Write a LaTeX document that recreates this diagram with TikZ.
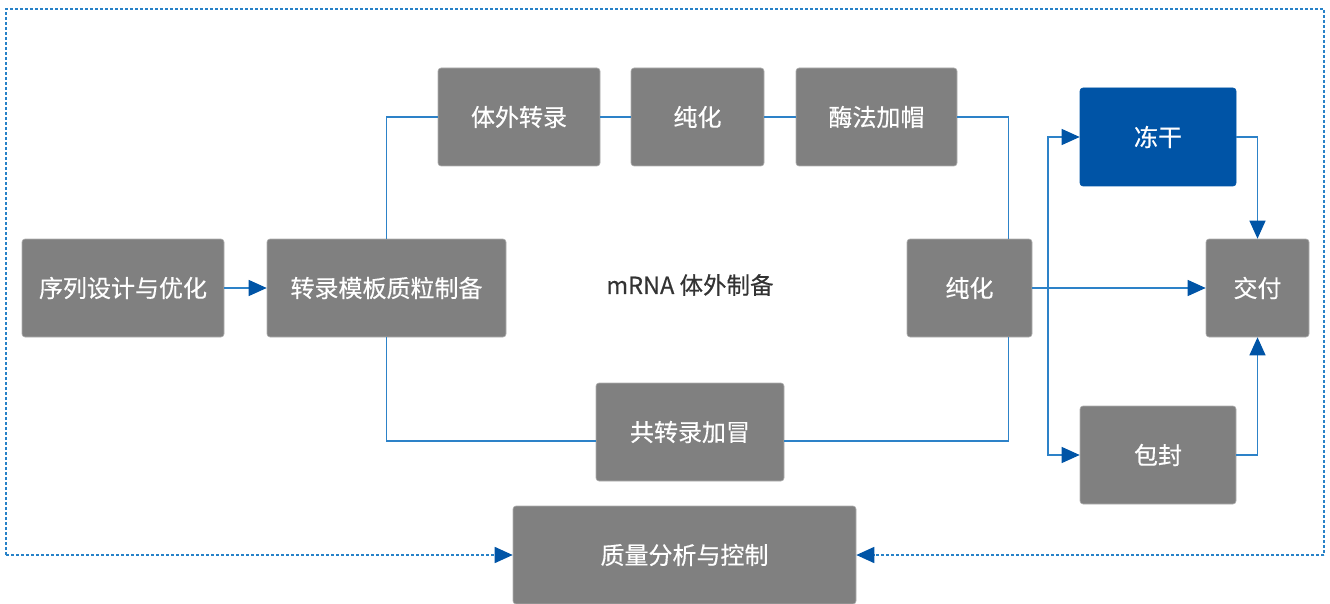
\documentclass[tikz,border=0pt]{standalone}
\usepackage{fontspec}
\setmainfont{Noto Sans CJK SC}
\usetikzlibrary{arrows.meta}
\definecolor{boxgray}{RGB}{128,128,128}
\definecolor{boxedge}{RGB}{175,175,175}
\definecolor{deepblue}{RGB}{0,84,166}
\definecolor{linkblue}{RGB}{45,130,200}
\definecolor{dotblue}{RGB}{40,130,200}
\definecolor{labelgray}{RGB}{51,51,51}
\begin{document}
\begin{tikzpicture}[x=1pt,y=-1pt,
  stepbox/.style={draw=boxedge, line width=0.6pt, fill=boxgray, rounded corners=3pt,
    text=white, font=\fontsize{24}{28}\selectfont\addfontfeature{FakeBold=0.4}, minimum height=98pt, inner sep=0pt},
  bluebox/.style={stepbox, fill=deepblue, draw=deepblue},
  link/.style={draw=linkblue, line width=1.2pt},
  tip/.style={-{Triangle[length=18pt,width=16pt,color=deepblue]}},
  frame/.style={draw=dotblue, line width=1.6pt, dash pattern=on 3pt off 2pt}]
\useasboundingbox (0,0) rectangle (1330,604);

\node[stepbox, minimum width=202pt] (seq) at (123,288) {序列设计与优化};
\node[stepbox, minimum width=239pt] (tmpl) at (386.5,288) {转录模板质粒制备};
\node[stepbox, minimum width=162pt] (ivt) at (519,117) {体外转录};
\node[stepbox, minimum width=133pt] (pur1) at (697.5,117) {纯化};
\node[stepbox, minimum width=161pt] (cap) at (876.5,117) {酶法加帽};
\node[stepbox, minimum width=125pt] (pur2) at (969.5,288) {纯化};
\node[stepbox, minimum width=188pt] (cotx) at (690,432) {共转录加冒};
\node[bluebox, minimum width=156pt] (lyo) at (1158,137) {冻干};
\node[stepbox, minimum width=103pt] (deliv) at (1257.5,288) {交付};
\node[stepbox, minimum width=156pt] (encap) at (1158,455) {包封};
\node[stepbox, minimum width=343pt] (qc) at (684.5,555) {质量分析与控制};
\node[text=labelgray, font=\fontsize{23.5}{28}\selectfont\addfontfeature{FakeBold=0.4}] (lbl) at (690,285) {mRNA 体外制备};

\draw[link,tip] (seq) -- (tmpl);
\draw[link] (tmpl.north) |- (ivt.west);
\draw[link] (ivt) -- (pur1);
\draw[link] (pur1) -- (cap);
\draw[link] (cap.east) -| ([xshift=-24pt]pur2.north east);
\draw[link] (tmpl.south) |- ([yshift=-9pt]cotx.west);
\draw[link] ([yshift=-9pt]cotx.east) -| ([xshift=-24pt]pur2.south east);
\draw[link,tip] (pur2) -- (deliv);
\coordinate (j) at (1048,288);
\draw[link,tip] (j) |- (lyo.west);
\draw[link,tip] (j) |- (encap.west);
\draw[link,tip] (lyo.east) -| (deliv.north);
\draw[link,tip] (encap.east) -| (deliv.south);

\coordinate (fbl) at (6,555);
\coordinate (ftl) at (6,9);
\coordinate (ftr) at (1324,9);
\coordinate (fbr) at (1324,555);
\draw[frame] (fbl) -- (ftl) -- (ftr) -- (fbr);
\draw[frame,tip] (fbl) -- (qc.west);
\draw[frame,tip] (fbr) -- (qc.east);
\end{tikzpicture}
\end{document}
